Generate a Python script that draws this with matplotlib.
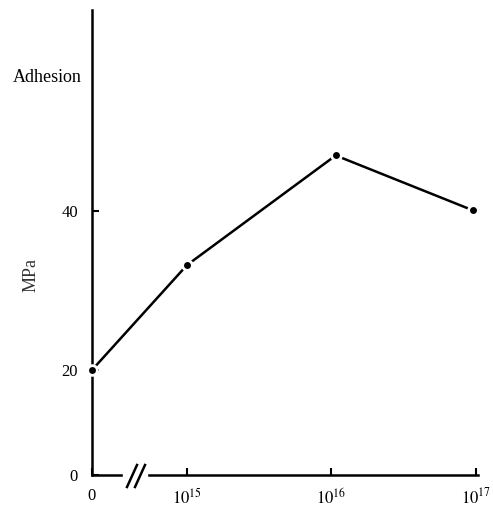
import numpy as np
import matplotlib
matplotlib.use('Agg')
import matplotlib.pyplot as plt
from matplotlib.lines import Line2D
from matplotlib.patches import Rectangle

# Adhesion vs. implanted dose (0, then log scale after the axis break)
dose = [0, 1.0e15, 1.07e16, 9.5e16]
adhesion = [20, 33.2, 47.0, 40.1]
dose_ticks = [15, 16, 17]
dose_labels = ['$10^{15}$', '$10^{16}$', '$10^{17}$']
mpa_ticks = [0, 20, 40]

plt.rcParams['font.family'] = 'Liberation Serif'
plt.rcParams['mathtext.fontset'] = 'stix'

x_origin = 14.343  # position where dose 0 sits, left of the break

# hand-drawn axis: 0-20 is squeezed compared with 20-40
k = 105 / 159.0


def fwd(v):
    v = np.asarray(v, dtype=float)
    return np.where(v < 20, v * k, 20 * k + (v - 20))


def inv(u):
    u = np.asarray(u, dtype=float)
    return np.where(u < 20 * k, u / k, u - 20 * k + 20)


fig = plt.figure(figsize=(4.93, 5.09), dpi=100)
ax = fig.add_axes([92 / 493, 34 / 509, 386 / 493, 465 / 509])
ax.set_yscale('function', functions=(fwd, inv))

xpos = [np.log10(d) if d > 0 else x_origin for d in dose]
ax.plot(xpos, adhesion, color='black', linewidth=1.8, marker='o', markersize=7,
        markerfacecolor='black', markeredgecolor='white', markeredgewidth=2,
        clip_on=False, zorder=5)

ax.set_xlim(x_origin, 17.014)
ax.set_ylim(0, 65.3)

ax.set_xticks([x_origin] + dose_ticks)
ax.set_xticklabels(['0'] + dose_labels, fontsize=12)
ax.set_yticks(mpa_ticks)
ax.set_yticklabels([str(t) for t in mpa_ticks], fontsize=12)
ax.tick_params(direction='in', length=5, width=1.5, pad=10)
ax.tick_params(axis='x', pad=9)

for s in ['top', 'right']:
    ax.spines[s].set_visible(False)
for s in ['left', 'bottom']:
    ax.spines[s].set_linewidth(1.8)

fig.text(13 / 493, 1 - 78 / 509, 'Adhesion', fontsize=13, va='center', ha='left')
fig.text(31 / 493, 1 - 275 / 509, 'MPa', fontsize=13, rotation=90,
         va='center', ha='center', color='#333333')

# axis break "//"
fig.add_artist(Rectangle((123 / 493, 1 - 480 / 509), 24 / 493, 10 / 509,
                         transform=fig.transFigure, color='white', zorder=10))
for x0 in (127, 135):
    fig.add_artist(Line2D([x0 / 493, (x0 + 10) / 493], [1 - 487 / 509, 1 - 465 / 509],
                          transform=fig.transFigure, color='black', linewidth=1.8, zorder=11))

fig.savefig('out.png', dpi=100)
